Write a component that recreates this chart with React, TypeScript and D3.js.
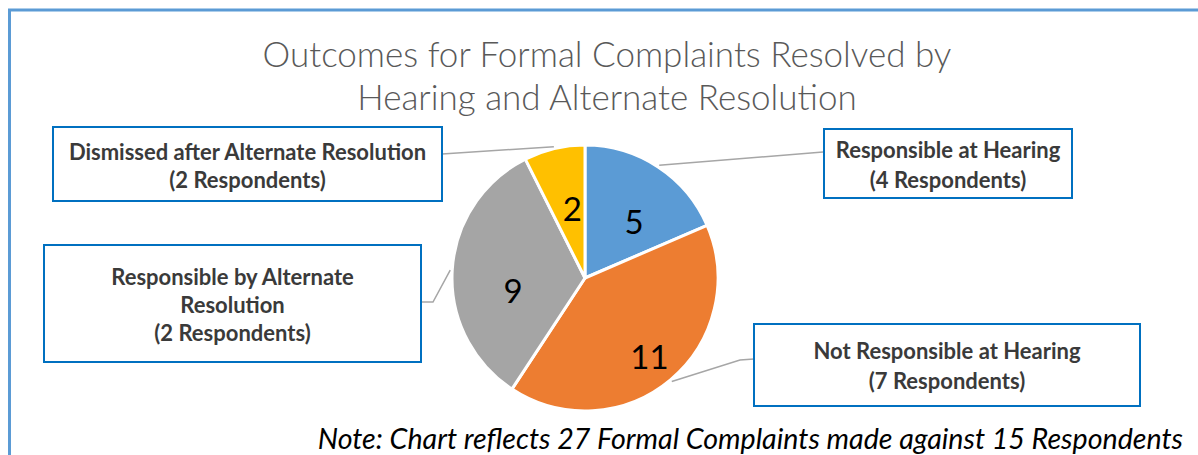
import React from "react";
import * as d3 from "d3";

const categories = [
  "Responsible at Hearing",
  "Not Responsible at Hearing",
  "Responsible by Alternate Resolution",
  "Dismissed after Alternate Resolution",
];
const complaints = [5, 11, 9, 2];
const respondents = [4, 7, 2, 2];
const colors = ["#5B9BD5", "#ED7D31", "#A5A5A5", "#FFC000"];
const titleLines = ["Outcomes for Formal Complaints Resolved by", "Hearing and Alternate Resolution"];
const note = "Note: Chart reflects 27 Formal Complaints made against 15 Respondents";

// label box layout (x, y, w, h) and text lines
const boxes = [
  { x: 824, y: 129, w: 248, h: 69, lines: ["Responsible at Hearing"], lineY: [150, 180], anchor: [823, 152], elbow: null as null | number[] },
  { x: 754, y: 324, w: 386, h: 82, lines: ["Not Responsible at Hearing"], lineY: [351, 381], anchor: [754, 359], elbow: [740, 360] },
  { x: 44, y: 245, w: 377, h: 117, lines: ["Responsible by Alternate", "Resolution"], lineY: [277, 305, 333], anchor: [421, 302], elbow: [433, 302] },
  { x: 53, y: 127, w: 389, h: 74, lines: ["Dismissed after Alternate Resolution"], lineY: [152, 180], anchor: [442, 154], elbow: null },
];
// data label placement (radius fraction, angle shift in degrees)
const labelPos = [
  { rf: 0.56, da: 8 },
  { rf: 0.77, da: 1 },
  { rf: 0.55, da: -14 },
  { rf: 0.53, da: 3 },
];

export default function App() {
  const W = 1198, H = 455;
  const cx = 585, cy = 278, R = 133;
  const pie = d3.pie<number>().sort(null).value((d) => d);
  const arcs = pie(complaints);
  const arc = d3.arc<d3.PieArcDatum<number>>().innerRadius(0).outerRadius(R);
  const edge = d3.arc<d3.PieArcDatum<number>>().innerRadius(R + 2).outerRadius(R + 2);
  const font = "Lato, 'Open Sans', sans-serif";

  return (
    <svg width={W} height={H} style={{ position: "absolute", left: 0, top: 0 }}>
      <rect x={0} y={0} width={W} height={H} fill="#fff" />
      <rect x={9.5} y={10} width={W + 20} height={H + 20} fill="none" stroke="#5B9BD5" strokeWidth={3} />
      {titleLines.map((t, i) => (
        <text key={i} x={607} y={67 + i * 43} textAnchor="middle" fontFamily={font} fontWeight={300} fontSize={35} fill="#595959">
          {t}
        </text>
      ))}
      <g transform={`translate(${cx},${cy})`}>
        {arcs.map((a, i) => (
          <path key={i} d={arc(a) || ""} fill={colors[i]} stroke="#fff" strokeWidth={3} strokeLinejoin="round" />
        ))}
        {arcs.map((a, i) => {
          const mid = (a.startAngle + a.endAngle) / 2 + (labelPos[i].da * Math.PI) / 180;
          const r = R * labelPos[i].rf;
          const x = Math.sin(mid) * r;
          const y = -Math.cos(mid) * r;
          return (
            <text key={i} x={x} y={y} dy="0.36em" textAnchor="middle" fontFamily={font} fontSize={33} fill="#000">
              {a.data}
            </text>
          );
        })}
      </g>
      {arcs.map((a, i) => {
        const [ex, ey] = edge.centroid(a);
        const b = boxes[i];
        const pts = [[cx + ex, cy + ey]];
        if (b.elbow) pts.push(b.elbow);
        pts.push(b.anchor);
        return (
          <polyline key={i} points={pts.map((p) => p.join(",")).join(" ")} fill="none" stroke="#A6A6A6" strokeWidth={1.5} />
        );
      })}
      {boxes.map((b, i) => (
        <g key={i}>
          <rect x={b.x} y={b.y} width={b.w} height={b.h} fill="#fff" stroke="#0070C0" strokeWidth={2} />
          {[...b.lines, `(${respondents[i]} Respondents)`].map((t, j) => (
            <text key={j} x={b.x + b.w / 2} y={b.lineY[j]} dy="0.35em" textAnchor="middle" fontFamily={font} fontWeight={700} fontSize={22} fill="#3a3a3a">
              {t}
            </text>
          ))}
        </g>
      ))}
      <text x={1183} y={449} textAnchor="end" fontFamily={font} fontStyle="italic" fontSize={28.6} fill="#000">
        {note}
      </text>
    </svg>
  );
}
